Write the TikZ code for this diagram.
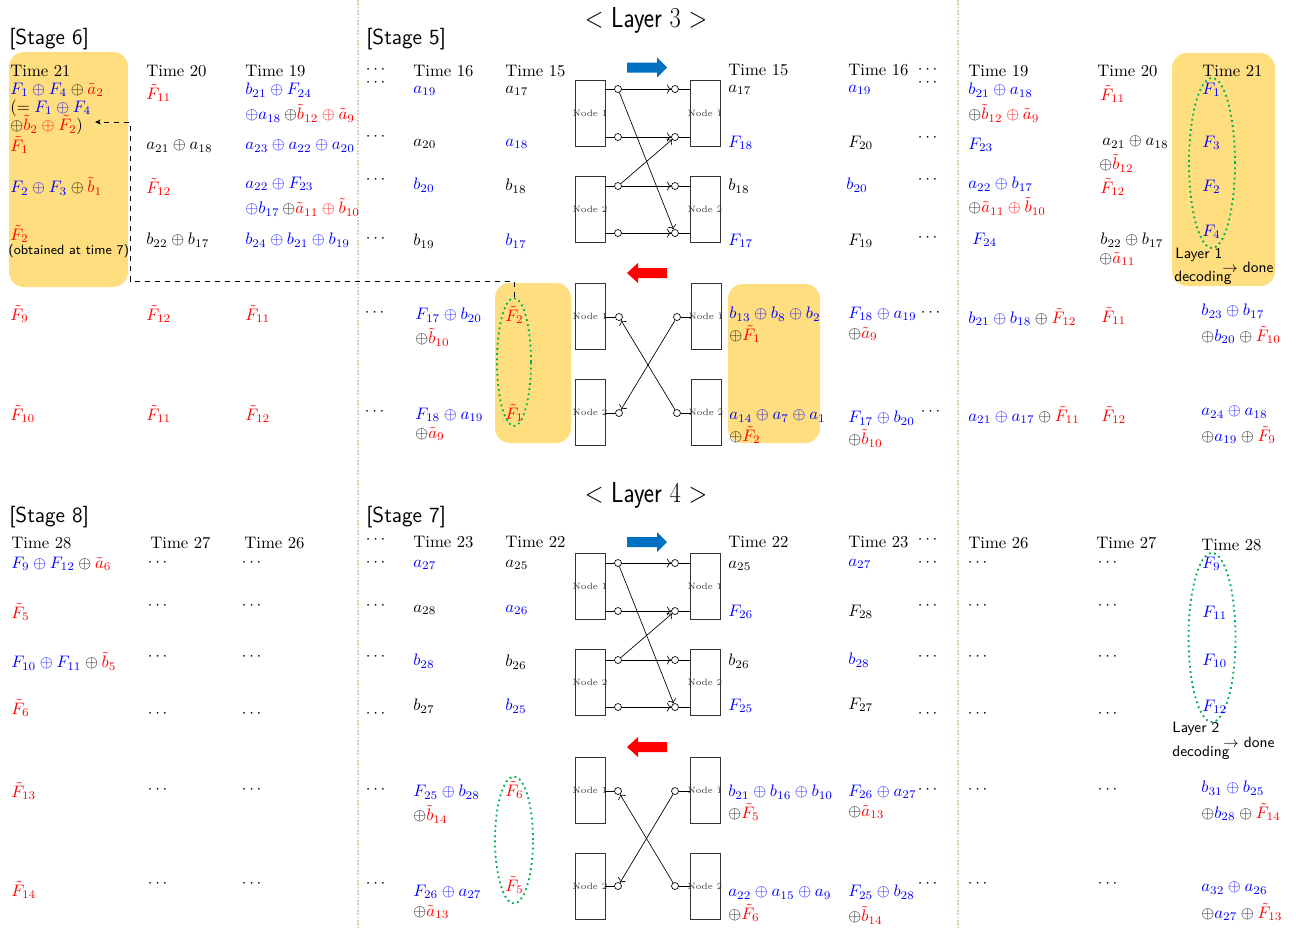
\documentclass[tikz,border=0pt]{standalone}
\usepackage{amsmath}
\usepackage{graphicx}
\usetikzlibrary{shapes.geometric,arrows.meta}
\definecolor{bl}{RGB}{0,0,255}
\definecolor{rd}{RGB}{255,0,0}
\definecolor{yel}{RGB}{255,222,128}
\definecolor{grn}{RGB}{0,176,80}
\definecolor{arrblue}{RGB}{0,112,192}
\definecolor{sepc}{RGB}{215,207,172}
\newcommand{\myb}[1]{\textcolor{bl}{#1}}
\newcommand{\myr}[1]{\textcolor{rd}{#1}}
\newcommand{\nodelabel}[1]{\makebox[0pt]{#1}}
\begin{document}
\begin{tikzpicture}[x=0.6pt,y=-0.6pt,
 t/.style={anchor=west,inner sep=0pt},
 dt/.style={inner sep=0pt},
 stg/.style={anchor=west,inner sep=0pt,font=\fontsize{13}{15}\selectfont\sffamily},
 ttl/.style={anchor=base,inner sep=0pt,font=\LARGE\sffamily},
 nbox/.style={draw=black!80,minimum width=18pt,minimum height=39.6pt,inner sep=0pt,font=\fontsize{5.5}{6}\selectfont,text=black!75},
 circ/.style={circle,draw,fill=white,minimum size=4.2pt,inner sep=0pt},
 gel/.style={ellipse,draw=grn,dotted,line width=1.1pt,inner sep=0pt},
 ybox/.style={fill=yel,rounded corners=9pt},
 sepl/.style={draw=sepc,line width=0.8pt,dash pattern=on 1pt off 1pt},
 lab/.style={anchor=west,inner sep=0pt,font=\small\sffamily}
]
\useasboundingbox (0,0) rectangle (1296,928);
% separators
\path[sepl] (358,0) -- (358,928);
\path[sepl] (958,0) -- (958,928);
% yellow boxes
\path[ybox] (9,52) rectangle (128,287);
\path[ybox] (495,283) rectangle (571,443);
\path[ybox] (728,284) rectangle (820,443);
\path[ybox] (1172,53) rectangle (1275,286);
% green ellipses
\node[gel,minimum width=20.4pt,minimum height=76.8pt] (e5) at (514,362) {};
\node[gel,minimum width=27.6pt,minimum height=102pt] (e6) at (1212,163) {};
\node[gel,minimum width=22.8pt,minimum height=76.2pt] (e7) at (514,840) {};
\node[gel,minimum width=28.2pt,minimum height=101.4pt] (e8) at (1212,637.5) {};
% dashed connector
\coordinate (d1) at (130,281);
\coordinate (d2) at (130,122);
\coordinate (d3) at (95,122);
\draw[dashed,-{Stealth[length=3.5pt,width=3pt]}] (e5.north) |- (d1) -- (d2) -- (d3);
% titles
\node[ttl] (L3) at (646,27) {\scalebox{0.85}[1]{$<$ Layer $3$ $>$}};
\node[ttl] (L4) at (646,502) {\scalebox{0.85}[1]{$<$ Layer $4$ $>$}};
\node[stg] (S6) at (9,39) {[Stage 6]};
\node[stg] (S5) at (366,39) {[Stage 5]};
\node[stg] (S8) at (9,517) {[Stage 8]};
\node[stg] (S7) at (366,517) {[Stage 7]};
% fat arrows
\fill[arrblue] (627,62.5) -- (657,62.5) -- (657,57.5) -- (667,67.5) -- (657,77.5) -- (657,72.5) -- (627,72.5) -- cycle;
\fill[rd] (667,268) -- (638,268) -- (638,263) -- (627,273) -- (638,283) -- (638,278) -- (667,278) -- cycle;
\fill[arrblue] (627,537) -- (657,537) -- (657,532) -- (667,542) -- (657,552) -- (657,547) -- (627,547) -- cycle;
\fill[rd] (667,742) -- (638,742) -- (638,737) -- (627,747) -- (638,757) -- (638,752) -- (667,752) -- cycle;
% ===== Layer 3 network (top)
\node[nbox] (n1) at (590,113) {\nodelabel{Node 1}};
\node[nbox] (n2) at (590,209) {\nodelabel{Node 2}};
\node[nbox] (m1) at (705,113) {\nodelabel{Node $\bar{1}$}};
\node[nbox] (m2) at (705,209) {\nodelabel{Node $\bar{2}$}};
\node[circ] (l1) at (618,89) {};
\node[circ] (l2) at (618,137) {};
\node[circ] (l3) at (618,186) {};
\node[circ] (l4) at (618,233) {};
\node[circ] (r1) at (675,89) {};
\node[circ] (r2) at (675,137) {};
\node[circ] (r3) at (675,186) {};
\node[circ] (r4) at (675,233) {};
\draw (n1.east|-l1) -- (l1); \draw (n1.east|-l2) -- (l2);
\draw (n2.east|-l3) -- (l3); \draw (n2.east|-l4) -- (l4);
\draw (r1) -- (m1.west|-r1); \draw (r2) -- (m1.west|-r2);
\draw (r3) -- (m2.west|-r3); \draw (r4) -- (m2.west|-r4);
\draw[->] (l1) -- (r1); \draw[->] (l2) -- (r2);
\draw[->] (l3) -- (r3); \draw[->] (l4) -- (r4);
\draw[->] (l1) -- (r4); \draw[->] (l3) -- (r2);
% ===== Layer 3 network (bottom)
\node[nbox] (n3) at (590,316.5) {\nodelabel{Node 1}};
\node[nbox] (n4) at (590,412.5) {\nodelabel{Node 2}};
\node[nbox] (m3) at (706,316.5) {\nodelabel{Node $\bar{1}$}};
\node[nbox] (m4) at (706,412.5) {\nodelabel{Node $\bar{2}$}};
\node[circ] (l5) at (619,317) {};
\node[circ] (l6) at (619,413) {};
\node[circ] (r5) at (677,317) {};
\node[circ] (r6) at (677,413) {};
\draw (n3.east|-l5) -- (l5); \draw (n4.east|-l6) -- (l6);
\draw (r5) -- (m3.west|-r5); \draw (r6) -- (m4.west|-r6);
\draw[->] (r5) -- (l6); \draw[->] (r6) -- (l5);
% ===== Layer 4 network (top)
\node[nbox] (n5) at (590,586.5) {\nodelabel{Node 1}};
\node[nbox] (n6) at (590,682.5) {\nodelabel{Node 2}};
\node[nbox] (m5) at (705,586.5) {\nodelabel{Node $\bar{1}$}};
\node[nbox] (m6) at (705,682.5) {\nodelabel{Node $\bar{2}$}};
\node[circ] (l7) at (618,563) {};
\node[circ] (l8) at (618,611) {};
\node[circ] (l9) at (618,660) {};
\node[circ] (l10) at (618,707) {};
\node[circ] (r7) at (675,563) {};
\node[circ] (r8) at (675,611) {};
\node[circ] (r9) at (675,660) {};
\node[circ] (r10) at (675,707) {};
\draw (n5.east|-l7) -- (l7); \draw (n5.east|-l8) -- (l8);
\draw (n6.east|-l9) -- (l9); \draw (n6.east|-l10) -- (l10);
\draw (r7) -- (m5.west|-r7); \draw (r8) -- (m5.west|-r8);
\draw (r9) -- (m6.west|-r9); \draw (r10) -- (m6.west|-r10);
\draw[->] (l7) -- (r7); \draw[->] (l8) -- (r8);
\draw[->] (l9) -- (r9); \draw[->] (l10) -- (r10);
\draw[->] (l7) -- (r10); \draw[->] (l9) -- (r8);
% ===== Layer 4 network (bottom)
\node[nbox] (n7) at (590,790) {\nodelabel{Node 1}};
\node[nbox] (n8) at (590,886.5) {\nodelabel{Node 2}};
\node[nbox] (m7) at (705,790) {\nodelabel{Node $\bar{1}$}};
\node[nbox] (m8) at (705,886.5) {\nodelabel{Node $\bar{2}$}};
\node[circ] (l11) at (618,791) {};
\node[circ] (l12) at (618,886) {};
\node[circ] (r11) at (675,791) {};
\node[circ] (r12) at (675,886) {};
\draw (n7.east|-l11) -- (l11); \draw (n8.east|-l12) -- (l12);
\draw (r11) -- (m7.west|-r11); \draw (r12) -- (m8.west|-r12);
\draw[->] (r11) -- (l12); \draw[->] (r12) -- (l11);
% ===== Stage 6
\node[t] (a1) at (10,71) {Time 21};
\node[t] (a2) at (10,90) {$\myb{F_1\oplus F_4}\oplus\myr{\tilde a_2}$};
\node[t] (a3) at (10,108) {$(=\myb{F_1\oplus F_4}$};
\node[t] (a4) at (10,125) {$\oplus\myr{\tilde b_2\oplus\tilde F_2})$};
\node[t] (a5) at (10,145) {$\myr{\tilde F_1}$};
\node[t] (a6) at (10,186) {$\myb{F_2\oplus F_3}\oplus\myr{\tilde b_1}$};
\node[t] (a7) at (10,234) {$\myr{\tilde F_2}$};
\node[t,font=\footnotesize\sffamily] (a8) at (8,251) {(obtained at time 7)};
\node[t] (a9) at (146,71) {Time 20};
\node[t] (a10) at (146,93) {$\myr{\tilde F_{11}}$};
\node[t] (a11) at (146,146) {$a_{21}\oplus a_{18}$};
\node[t] (a12) at (146,187) {$\myr{\tilde F_{12}}$};
\node[t] (a13) at (146,240) {$b_{22}\oplus b_{17}$};
\node[t] (a14) at (245,71) {Time 19};
\node[t] (a15) at (245,90) {$\myb{b_{21}\oplus F_{24}}$};
\node[t] (a16) at (245,113) {$\myb{\oplus a_{18}}\,{\oplus}\myr{\tilde b_{12}\oplus\tilde a_9}$};
\node[t] (a17) at (245,146) {$\myb{a_{23}\oplus a_{22}\oplus a_{20}}$};
\node[t] (a18) at (245,184) {$\myb{a_{22}\oplus F_{23}}$};
\node[t] (a19) at (245,207) {$\myb{\oplus b_{17}}\,{\oplus}\myr{\tilde a_{11}\oplus\tilde b_{10}}$};
\node[t] (a20) at (245,240) {$\myb{b_{24}\oplus b_{21}\oplus b_{19}}$};
\node[t] (a21) at (10,314) {$\myr{\tilde F_9}$};
\node[t] (a22) at (146,314) {$\myr{\tilde F_{12}}$};
\node[t] (a23) at (245,314) {$\myr{\tilde F_{11}}$};
\node[t] (a24) at (10,414) {$\myr{\tilde F_{10}}$};
\node[t] (a25) at (146,414) {$\myr{\tilde F_{11}}$};
\node[t] (a26) at (245,414) {$\myr{\tilde F_{12}}$};
% ===== Stage 5 left
\node[dt] (b1) at (377,70) {$\cdots$};
\node[dt] (b2) at (377,83) {$\cdots$};
\node[dt] (b3) at (377,137) {$\cdots$};
\node[dt] (b4) at (377,180) {$\cdots$};
\node[dt] (b5) at (377,239) {$\cdots$};
\node[t] (b6) at (413,71) {Time 16};
\node[t] (b7) at (413,91) {$\myb{a_{19}}$};
\node[t] (b8) at (413,144) {$a_{20}$};
\node[t] (b9) at (413,185) {$\myb{b_{20}}$};
\node[t] (b10) at (413,241) {$b_{19}$};
\node[t] (b11) at (505,71) {Time 15};
\node[t] (b12) at (505,91) {$a_{17}$};
\node[t] (b13) at (505,144) {$\myb{a_{18}}$};
\node[t] (b14) at (505,186) {$b_{18}$};
\node[t] (b15) at (505,241) {$\myb{b_{17}}$};
% Stage 5 right
\node[t] (c1) at (728,70) {Time 15};
\node[t] (c2) at (728,90) {$a_{17}$};
\node[t] (c3) at (728,143) {$\myb{F_{18}}$};
\node[t] (c4) at (728,186) {$b_{18}$};
\node[t] (c5) at (728,241) {$\myb{F_{17}}$};
\node[t] (c6) at (848,70) {Time 16};
\node[t] (c7) at (848,90) {$\myb{a_{19}}$};
\node[t] (c8) at (848,143) {$F_{20}$};
\node[t] (c9) at (846,185) {$\myb{b_{20}}$};
\node[t] (c10) at (848,241) {$F_{19}$};
\node[dt] (c11) at (929,70) {$\cdots$};
\node[dt] (c12) at (929,83) {$\cdots$};
\node[dt] (c13) at (929,138) {$\cdots$};
\node[dt] (c14) at (929,180) {$\cdots$};
\node[dt] (c15) at (929,238) {$\cdots$};
% Stage 5 row 2
\node[dt] (f1) at (376,313) {$\cdots$};
\node[dt] (f2) at (376,412) {$\cdots$};
\node[t] (f3) at (415,315) {$\myb{F_{17}\oplus b_{20}}$};
\node[t] (f4) at (415,337) {$\oplus\myr{\tilde b_{10}}$};
\node[t] (f5) at (415,415) {$\myb{F_{18}\oplus a_{19}}$};
\node[t] (f6) at (415,434) {$\oplus\myr{\tilde a_9}$};
\node[t] (f7) at (505,315) {$\myr{\tilde F_2}$};
\node[t] (f8) at (505,413) {$\myr{\tilde F_1}$};
\node[t] (f9) at (729,314) {$\myb{b_{13}\oplus b_8\oplus b_2}$};
\node[t] (f10) at (729,334) {$\oplus\myr{\tilde F_1}$};
\node[t] (f11) at (729,416) {$\myb{a_{14}\oplus a_7\oplus a_1}$};
\node[t] (f12) at (729,435) {$\oplus\myr{\tilde F_2}$};
\node[t] (f13) at (848,314) {$\myb{F_{18}\oplus a_{19}}$};
\node[t] (f14) at (848,334) {$\oplus\myr{\tilde a_9}$};
\node[t] (f15) at (848,418) {$\myb{F_{17}\oplus b_{20}}$};
\node[t] (f16) at (848,438) {$\oplus\myr{\tilde b_{10}}$};
\node[dt] (f17) at (932,313) {$\cdots$};
\node[dt] (f18) at (932,412) {$\cdots$};
% ===== right stage (Layer 3)
\node[t] (g1) at (968,71) {Time 19};
\node[t] (g2) at (968,90) {$\myb{b_{21}\oplus a_{18}}$};
\node[t] (g3) at (968,113) {$\oplus\myr{\tilde b_{12}\oplus\tilde a_9}$};
\node[t] (g4) at (968,145) {$\myb{F_{23}}$};
\node[t] (g5) at (968,184) {$\myb{a_{22}\oplus b_{17}}$};
\node[t] (g6) at (968,206) {$\oplus\myr{\tilde a_{11}\oplus\tilde b_{10}}$};
\node[t] (g7) at (972,240) {$\myb{F_{24}}$};
\node[t] (g8) at (1097,71) {Time 20};
\node[t] (g9) at (1100,94) {$\myr{\tilde F_{11}}$};
\node[t] (g10) at (1102,142) {$a_{21}\oplus a_{18}$};
\node[t] (g11) at (1099,163) {$\oplus\myr{\tilde b_{12}}$};
\node[t] (g12) at (1100,187) {$\myr{\tilde F_{12}}$};
\node[t] (g13) at (1100,240) {$b_{22}\oplus b_{17}$};
\node[t] (g14) at (1099,259) {$\oplus\myr{\tilde a_{11}}$};
\node[t] (g15) at (1202,71) {Time 21};
\node[t] (g16) at (1202,90) {$\myb{F_1}$};
\node[t] (g17) at (1202,143) {$\myb{F_3}$};
\node[t] (g18) at (1202,187) {$\myb{F_2}$};
\node[t] (g19) at (1202,232) {$\myb{F_4}$};
\node[lab] (g20) at (1175,255) {Layer 1};
\node[lab] (g21) at (1174,278) {decoding};
\node[lab] (g22) at (1222,267) {$\rightarrow$ done};
\node[t] (g23) at (968,317) {$\myb{b_{21}\oplus b_{18}}\oplus\myr{\tilde F_{12}}$};
\node[t] (g24) at (1101,316) {$\myr{\tilde F_{11}}$};
\node[t] (g25) at (1201,311) {$\myb{b_{23}\oplus b_{17}}$};
\node[t] (g26) at (1201,335) {$\oplus\myb{b_{20}}\oplus\myr{\tilde F_{10}}$};
\node[t] (g27) at (968,415) {$\myb{a_{21}\oplus a_{17}}\oplus\myr{\tilde F_{11}}$};
\node[t] (g28) at (1101,415) {$\myr{\tilde F_{12}}$};
\node[t] (g29) at (1201,412) {$\myb{a_{24}\oplus a_{18}}$};
\node[t] (g30) at (1201,435) {$\oplus\myb{a_{19}}\oplus\myr{\tilde F_9}$};
% ===== Stage 8
\node[t] (h1) at (11,543) {Time 28};
\node[t] (h2) at (11,564) {$\myb{F_9\oplus F_{12}}\oplus\myr{\tilde a_6}$};
\node[t] (h3) at (11,612) {$\myr{\tilde F_5}$};
\node[t] (h4) at (11,661) {$\myb{F_{10}\oplus F_{11}}\oplus\myr{\tilde b_5}$};
\node[t] (h5) at (11,708) {$\myr{\tilde F_6}$};
\node[t] (h6) at (11,791) {$\myr{\tilde F_{13}}$};
\node[t] (h7) at (11,890) {$\myr{\tilde F_{14}}$};
\node[t] (h8) at (150,543) {Time 27};
\node[t] (h9) at (244,543) {Time 26};
\foreach \yy [count=\i] in {563,606,657,714,790,884} {
  \node[dt] (hp\i) at (159,\yy) {$\cdots$};
  \node[dt] (hq\i) at (253,\yy) {$\cdots$};
  \node[dt] (kp\i) at (377,\yy) {$\cdots$};
  \node[dt] (kq\i) at (929,\yy) {$\cdots$};
  \node[dt] (mp\i) at (979,\yy) {$\cdots$};
  \node[dt] (mq\i) at (1109,\yy) {$\cdots$};
}
% ===== Stage 7 left
\node[dt] (k0) at (377,540) {$\cdots$};
\node[t] (k1) at (413,542) {Time 23};
\node[t] (k2) at (413,565) {$\myb{a_{27}}$};
\node[t] (k3) at (413,610) {$a_{28}$};
\node[t] (k4) at (413,661) {$\myb{b_{28}}$};
\node[t] (k5) at (413,706) {$b_{27}$};
\node[t] (k6) at (505,542) {Time 22};
\node[t] (k7) at (505,565) {$a_{25}$};
\node[t] (k8) at (505,610) {$\myb{a_{26}}$};
\node[t] (k9) at (505,662) {$b_{26}$};
\node[t] (k10) at (505,706) {$\myb{b_{25}}$};
\node[t] (k11) at (413,792) {$\myb{F_{25}\oplus b_{28}}$};
\node[t] (k12) at (413,814) {$\oplus\myr{\tilde b_{14}}$};
\node[t] (k13) at (413,892) {$\myb{F_{26}\oplus a_{27}}$};
\node[t] (k14) at (413,912) {$\oplus\myr{\tilde a_{13}}$};
\node[t] (k15) at (505,790) {$\myr{\tilde F_6}$};
\node[t] (k16) at (505,885) {$\myr{\tilde F_5}$};
% Stage 7 right
\node[t] (q1) at (728,542) {Time 22};
\node[t] (q2) at (728,566) {$a_{25}$};
\node[t] (q3) at (728,612) {$\myb{F_{26}}$};
\node[t] (q4) at (728,661) {$b_{26}$};
\node[t] (q5) at (728,706) {$\myb{F_{25}}$};
\node[t] (q6) at (848,542) {Time 23};
\node[t] (q7) at (848,564) {$\myb{a_{27}}$};
\node[t] (q8) at (848,612) {$F_{28}$};
\node[t] (q9) at (848,660) {$\myb{b_{28}}$};
\node[t] (q10) at (848,705) {$F_{27}$};
\node[dt] (q11) at (929,540) {$\cdots$};
\node[t] (q12) at (728,792) {$\myb{b_{21}\oplus b_{16}\oplus b_{10}}$};
\node[t] (q13) at (728,812) {$\oplus\myr{\tilde F_5}$};
\node[t] (q14) at (728,893) {$\myb{a_{22}\oplus a_{15}\oplus a_9}$};
\node[t] (q15) at (728,913) {$\oplus\myr{\tilde F_6}$};
\node[t] (q16) at (848,792) {$\myb{F_{26}\oplus a_{27}}$};
\node[t] (q17) at (848,812) {$\oplus\myr{\tilde a_{13}}$};
\node[t] (q18) at (848,892) {$\myb{F_{25}\oplus b_{28}}$};
\node[t] (q19) at (848,915) {$\oplus\myr{\tilde b_{14}}$};
% ===== right stage (Layer 4)
\node[t] (w1) at (968,543) {Time 26};
\node[t] (w2) at (1096,543) {Time 27};
\node[t] (w3) at (1201,545) {Time 28};
\node[t] (w4) at (1202,564) {$\myb{F_9}$};
\node[t] (w5) at (1202,613) {$\myb{F_{11}}$};
\node[t] (w6) at (1202,661) {$\myb{F_{10}}$};
\node[t] (w7) at (1202,707) {$\myb{F_{12}}$};
\node[lab] (w8) at (1172,729) {Layer 2};
\node[lab] (w9) at (1172,753) {decoding};
\node[lab] (w10) at (1223,742) {$\rightarrow$ done};
\node[t] (w11) at (1201,788) {$\myb{b_{31}\oplus b_{25}}$};
\node[t] (w12) at (1201,812) {$\oplus\myb{b_{28}}\oplus\myr{\tilde F_{14}}$};
\node[t] (w13) at (1201,888) {$\myb{a_{32}\oplus a_{26}}$};
\node[t] (w14) at (1201,912) {$\oplus\myb{a_{27}}\oplus\myr{\tilde F_{13}}$};
\end{tikzpicture}
\end{document}
